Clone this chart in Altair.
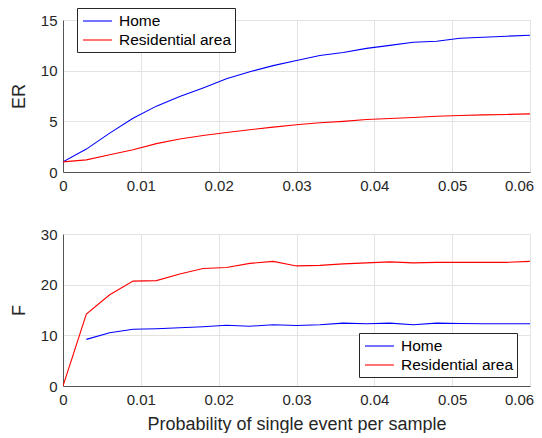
import altair as alt
import pandas as pd

x_vals = [0.000, 0.003, 0.006, 0.009, 0.012, 0.015, 0.018, 0.021, 0.024, 0.027, 0.030,
          0.033, 0.036, 0.039, 0.042, 0.045, 0.048, 0.051, 0.054, 0.057, 0.060]

er_home = [1.0, 2.26, 3.84, 5.3, 6.5, 7.45, 8.3, 9.2, 9.9, 10.5, 11.0,
           11.5, 11.8, 12.2, 12.5, 12.8, 12.9, 13.2, 13.3, 13.4, 13.5]
er_resid = [1.0, 1.2, 1.7, 2.2, 2.8, 3.25, 3.6, 3.9, 4.17, 4.43, 4.66,
            4.86, 5.0, 5.18, 5.28, 5.38, 5.5, 5.58, 5.64, 5.68, 5.74]

f_home = [None, 9.2, 10.5, 11.2, 11.3, 11.5, 11.7, 12.0, 11.8, 12.1, 11.95,
          12.1, 12.4, 12.3, 12.4, 12.1, 12.4, 12.35, 12.3, 12.3, 12.3]
f_resid = [0.0, 14.2, 18.0, 20.7, 20.8, 22.1, 23.2, 23.4, 24.2, 24.6, 23.7,
           23.8, 24.1, 24.3, 24.5, 24.3, 24.4, 24.4, 24.4, 24.4, 24.6]

series = ["Home", "Residential area"]
colors = ["#0000FF", "#FF0000"]

def make_df(a, b):
    rows = []
    for name, vals in zip(series, [a, b]):
        for xv, yv in zip(x_vals, vals):
            rows.append({"x": xv, "y": yv, "series": name})
    return pd.DataFrame(rows)

df_er = make_df(er_home, er_resid)
df_f = make_df(f_home, f_resid)

FONT = "Liberation Sans"
TXT = "#262626"

def panel(df, ytitle, ymax, ystep, show_xtitle, lx, ly):
    return alt.Chart(df).mark_line(strokeWidth=1.1, clip=True).encode(
        x=alt.X("x:Q",
                scale=alt.Scale(domain=[0, 0.06], nice=False, zero=False),
                axis=alt.Axis(values=[0, 0.01, 0.02, 0.03, 0.04, 0.05, 0.06],
                              format="~g", labelFlush=False,
                              labelOffset=alt.condition("datum.value >= 0.0599", alt.value(-11), alt.value(0)),
                              title="Probability of single event per sample" if show_xtitle else None)),
        y=alt.Y("y:Q",
                scale=alt.Scale(domain=[0, ymax], nice=False),
                axis=alt.Axis(values=list(range(0, ymax + 1, ystep)), title=ytitle)),
        color=alt.Color("series:N",
                        scale=alt.Scale(domain=series, range=colors),
                        legend=alt.Legend(title=None, orient="none", legendX=lx, legendY=ly,
                                          symbolType="M-0.78,0H2.44", symbolSize=324,
                                          symbolStrokeWidth=1.1,
                                          labelFont=FONT, labelFontSize=15.5, labelColor="#000000",
                                          labelLimit=300, rowPadding=0, labelOffset=19,
                                          strokeColor="#262626", fillColor="#ffffff",
                                          padding=3, cornerRadius=0)),
    ).properties(width=467, height=152)

top = panel(df_er, "ER", 15, 5, False, 14, -12)
bottom = panel(df_f, "F", 30, 10, True, 296, 99)

chart = alt.vconcat(top, bottom, spacing=34).resolve_scale(color="independent").configure_view(
    stroke=None
).configure_axis(
    labelFont=FONT, labelFontSize=15, labelColor=TXT,
    titleFont=FONT, titleFontSize=18, titleFontWeight="normal", titleColor=TXT,
    domainColor="#555555", ticks=False, gridColor="#e3e3e3",
    labelPadding=6,
).configure_axisY(titlePadding=12).configure_axisX(titlePadding=8).properties(
    padding={"left": 2, "right": 0, "top": -1, "bottom": 0}
)

chart.save("out.html", embed_options={"renderer": "svg", "actions": False})
